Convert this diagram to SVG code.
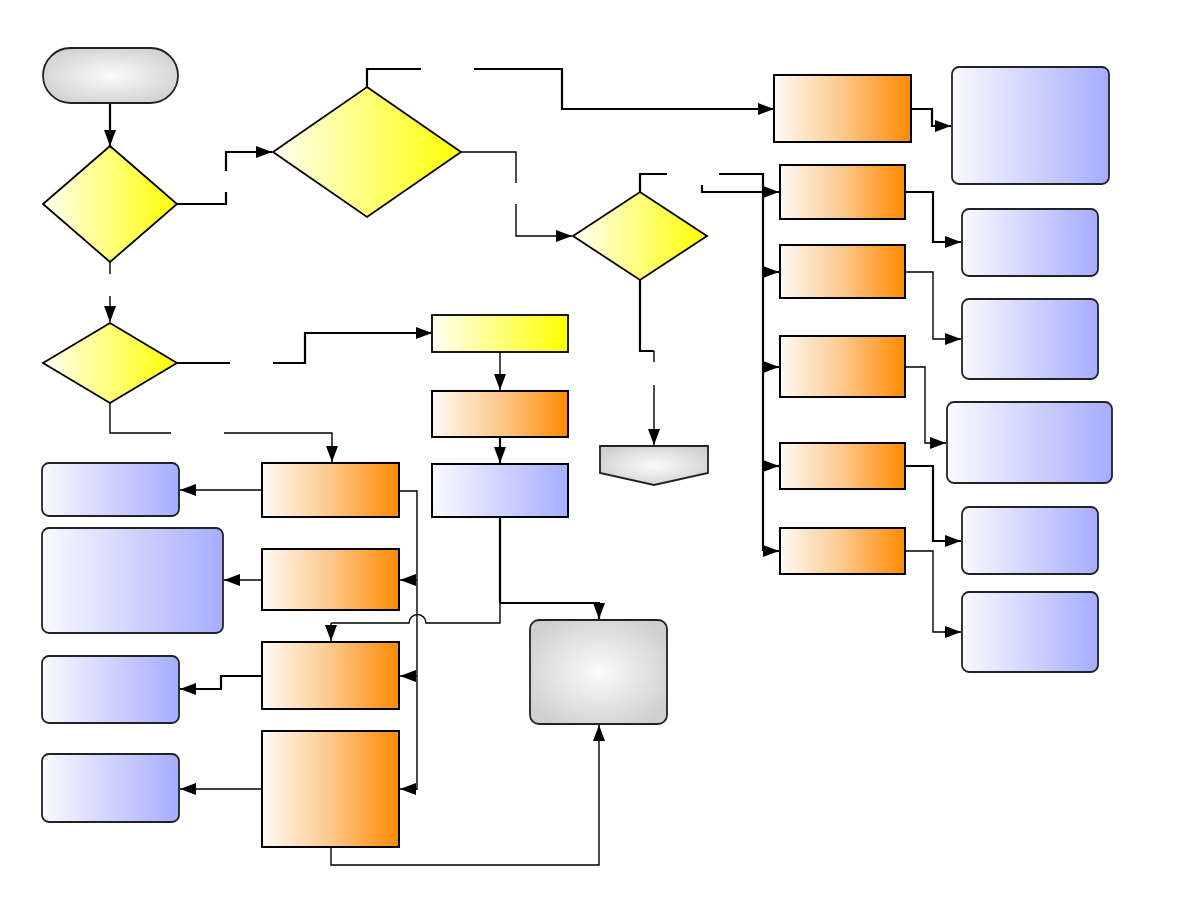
<svg xmlns="http://www.w3.org/2000/svg" width="1188" height="918" viewBox="0 0 1188 918">
<style>
.ln{fill:none;stroke:#000;stroke-width:2.2}
.tn{fill:none;stroke:#000;stroke-width:1.4}
.ar{marker-end:url(#ah)}
.or{fill:url(#gOr);stroke:#000;stroke-width:2}
.ye{fill:url(#gYe);stroke:#000;stroke-width:1.8}
.bl{fill:url(#gBl);stroke:#222;stroke-width:1.8}
.gr{fill:url(#gGr);stroke:#222;stroke-width:1.8}
</style>
<defs>
<linearGradient id="gOr" x1="0" y1="0" x2="1" y2="0"><stop offset="0" stop-color="#fffaf4"/><stop offset="0.5" stop-color="#fcc88c"/><stop offset="1" stop-color="#ff8a00"/></linearGradient>
<linearGradient id="gYe" x1="0" y1="0" x2="1" y2="0"><stop offset="0" stop-color="#fffff4"/><stop offset="1" stop-color="#ffff00"/></linearGradient>
<linearGradient id="gBl" x1="0" y1="0" x2="1" y2="0"><stop offset="0" stop-color="#fafaff"/><stop offset="1" stop-color="#a6adff"/></linearGradient>
<radialGradient id="gGr" cx="0.5" cy="0.5" r="0.6"><stop offset="0" stop-color="#fbfbfb"/><stop offset="1" stop-color="#cfcfcf"/></radialGradient>
<marker id="ah" viewBox="0 0 16 12" refX="16" refY="6" markerWidth="16" markerHeight="12" markerUnits="userSpaceOnUse" orient="auto"><path d="M0,0 L16,6 L0,12 z" fill="#000"/></marker>
</defs>
<g id="connectors">
<path class="ln ar" d="M110,103 V146"/>
<path class="ln" d="M177,204 H226 V192"/>
<path class="ln ar" d="M226,171 V152 H272"/>
<path class="ln" d="M367,87 V69 H421"/>
<path class="ln ar" d="M474,69 H562 V109 H774"/>
<path class="tn" d="M461,152 H516 V183"/>
<path class="tn ar" d="M516,204 V236 H572"/>
<path class="ln" d="M640,192 V174 H667"/>
<path class="ln" d="M719,174 H763 V551"/>
<path class="ln ar" d="M702,185 V192 H779"/>
<path class="ln ar" d="M763,272 H779"/>
<path class="ln ar" d="M763,367 H779"/>
<path class="ln ar" d="M763,466 H779"/>
<path class="ln ar" d="M763,551 H779"/>
<path class="ln ar" d="M911,109 H932 V126 H951"/>
<path class="ln ar" d="M905,192 H933 V242 H961"/>
<path class="tn ar" d="M905,272 H933 V339 H961"/>
<path class="tn ar" d="M905,367 H925 V443 H946"/>
<path class="ln ar" d="M905,466 H933 V541 H961"/>
<path class="tn ar" d="M905,551 H933 V632 H961"/>
<path class="ln" d="M640,280 V351 H654"/>
<path class="tn" d="M654,351 V362"/>
<path class="tn ar" d="M654,385 V445"/>
<path class="tn" d="M110,262 V274"/>
<path class="tn ar" d="M110,296 V322"/>
<path class="ln" d="M177,363 H230"/>
<path class="ln ar" d="M273,363 H305 V333 H432"/>
<path class="tn" d="M110,403 V433 H171"/>
<path class="tn ar" d="M224,433 H332 V462"/>
<path class="tn ar" d="M500,352 V390"/>
<path class="ln ar" d="M500,437 V463"/>
<path class="ln" d="M500,517 V603"/>
<path class="tn" d="M500,603 V623 H426 A8.5,8.5 0 0 0 409,623 H331"/>
<path class="tn ar" d="M331,623 V641"/>
<path class="ln ar" d="M500,603 H599 V619"/>
<path class="tn ar" d="M331,847 V865 H599 V725"/>
<path class="tn" d="M399,491 H417 V790"/>
<path class="tn ar" d="M417,580 H400"/>
<path class="tn ar" d="M417,676 H400"/>
<path class="tn ar" d="M417,789 H400"/>
<path class="tn ar" d="M262,490 H180"/>
<path class="tn ar" d="M262,580 H224"/>
<path class="ln ar" d="M262,676 H221 V689 H180"/>
<path class="tn ar" d="M262,789 H180"/>
</g>
<g id="start"><rect class="gr" x="43" y="48" width="135" height="55" rx="27.5"/></g>
<g id="decision1"><polygon class="ye" points="110,146 177,204 110,262 43,204"/></g>
<g id="decision2"><polygon class="ye" points="367,87 461,152 367,217 273,152"/></g>
<g id="decision3"><polygon class="ye" points="640,192 707,236 640,280 573,236"/></g>
<g id="decision4"><polygon class="ye" points="110,323 177,363 110,403 43,363"/></g>
<g id="process-top"><rect class="or" x="774" y="75" width="137" height="67"/></g>
<g id="process-r1"><rect class="or" x="780" y="165" width="125" height="54"/></g>
<g id="process-r2"><rect class="or" x="780" y="245" width="125" height="53"/></g>
<g id="process-r3"><rect class="or" x="780" y="336" width="125" height="61"/></g>
<g id="process-r4"><rect class="or" x="780" y="443" width="125" height="46"/></g>
<g id="process-r5"><rect class="or" x="780" y="528" width="125" height="46"/></g>
<g id="result-r0"><rect class="bl" x="952" y="67" width="157" height="117" rx="7"/></g>
<g id="result-r1"><rect class="bl" x="962" y="209" width="136" height="67" rx="7"/></g>
<g id="result-r2"><rect class="bl" x="962" y="299" width="136" height="80" rx="7"/></g>
<g id="result-r3"><rect class="bl" x="947" y="402" width="165" height="81" rx="7"/></g>
<g id="result-r4"><rect class="bl" x="962" y="507" width="136" height="67" rx="7"/></g>
<g id="result-r5"><rect class="bl" x="962" y="592" width="136" height="80" rx="7"/></g>
<g id="yellow-step"><rect class="ye" x="432" y="315" width="136" height="37"/></g>
<g id="orange-step"><rect class="or" x="432" y="391" width="136" height="46"/></g>
<g id="blue-step"><rect class="bl" x="432" y="464" width="136" height="53" style="stroke:#000;stroke-width:2"/></g>
<g id="offpage"><polygon class="gr" points="600,446 708,446 708,473 654,485 600,473"/></g>
<g id="end"><rect class="gr" x="530" y="620" width="137" height="104" rx="9"/></g>
<g id="process-l1"><rect class="or" x="262" y="463" width="137" height="54"/></g>
<g id="process-l2"><rect class="or" x="262" y="549" width="137" height="61"/></g>
<g id="process-l3"><rect class="or" x="262" y="642" width="137" height="67"/></g>
<g id="process-l4"><rect class="or" x="262" y="731" width="137" height="116"/></g>
<g id="result-l1"><rect class="bl" x="42" y="463" width="137" height="53" rx="7"/></g>
<g id="result-l2"><rect class="bl" x="42" y="528" width="181" height="105" rx="7"/></g>
<g id="result-l3"><rect class="bl" x="42" y="656" width="137" height="67" rx="7"/></g>
<g id="result-l4"><rect class="bl" x="42" y="754" width="137" height="68" rx="7"/></g>
</svg>
